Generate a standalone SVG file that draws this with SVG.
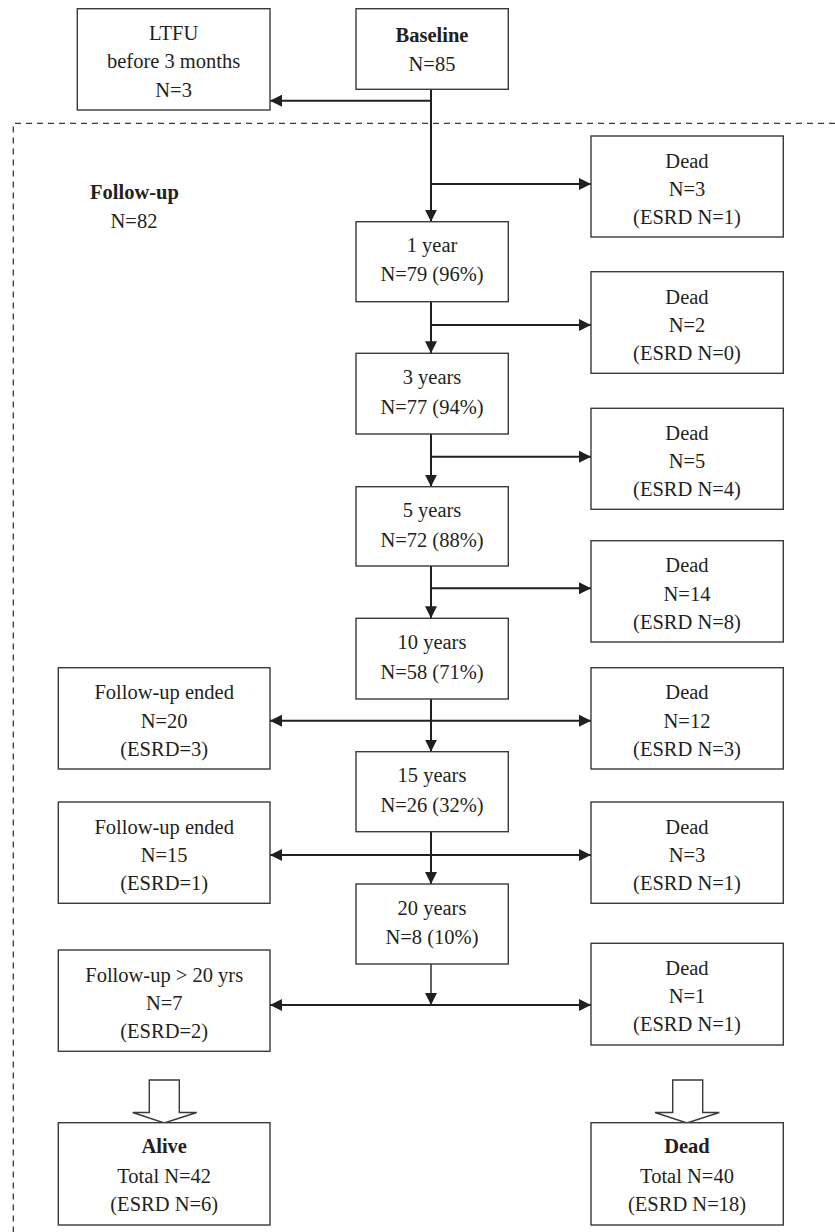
<svg xmlns="http://www.w3.org/2000/svg" width="835" height="1232" viewBox="0 0 835 1232">
<style>
.box{fill:#fff;stroke:#3a3a3a;stroke-width:1.4}
.t{font-family:"Liberation Serif","Times New Roman",serif;font-size:20.5px;fill:#231f20;text-anchor:middle}
.b{font-weight:bold}
.c{stroke:#231f20;stroke-width:2;fill:none}
.thin{stroke:#231f20;stroke-width:1.4;fill:none}
.dash{stroke:#3a3a3a;stroke-width:1.3;stroke-dasharray:6 5;fill:none}
.hollow{fill:#fff;stroke:#3a3a3a;stroke-width:1.4;stroke-linejoin:miter}
</style>
<defs>
<marker id="ah" markerUnits="userSpaceOnUse" markerWidth="13" markerHeight="12" refX="12" refY="6" orient="auto-start-reverse">
<path d="M0,0 L12,6 L0,12 z" fill="#231f20"/>
</marker>
</defs>
<rect width="835" height="1232" fill="#fff"/>
<g id="frame">
<path class="dash" d="M835,123.3 H13.3 V1232"/>
</g>
<g id="connectors">
<path class="c" d="M431,89.3 V221.7" marker-end="url(#ah)"/>
<path class="c" d="M431,100.7 H270" marker-end="url(#ah)"/>
<path class="c" d="M431,184 H591" marker-end="url(#ah)"/>
<path class="c" d="M431,301.7 V353.3" marker-end="url(#ah)"/>
<path class="c" d="M431,325 H591" marker-end="url(#ah)"/>
<path class="c" d="M431,434 V486.7" marker-end="url(#ah)"/>
<path class="c" d="M431,456.7 H591" marker-end="url(#ah)"/>
<path class="c" d="M431,566 V618.3" marker-end="url(#ah)"/>
<path class="c" d="M431,588.3 H591" marker-end="url(#ah)"/>
<path class="c" d="M431,699 V751.7" marker-end="url(#ah)"/>
<path class="c" d="M270,720.7 H591" marker-start="url(#ah)" marker-end="url(#ah)"/>
<path class="c" d="M431,831.7 V884" marker-end="url(#ah)"/>
<path class="c" d="M270,855 H591" marker-start="url(#ah)" marker-end="url(#ah)"/>
<path class="thin" d="M431,964 V1005" marker-end="url(#ah)"/>
<path class="c" d="M270,1005 H591" marker-start="url(#ah)" marker-end="url(#ah)"/>
<polygon class="hollow" points="149.3,1080 179.3,1080 179.3,1112.5 196.7,1112.5 164.3,1123 132.7,1112.5 149.3,1112.5"/>
<polygon class="hollow" points="672.7,1080 702.7,1080 702.7,1112.5 719.3,1112.5 687,1123 655,1112.5 672.7,1112.5"/>
</g>
<g id="ltfu">
<rect class="box" x="77.3" y="8.7" width="192.7" height="101.3"/>
<text class="t" x="173.6" y="40">LTFU</text>
<text class="t" x="173.6" y="68.3">before 3 months</text>
<text class="t" x="173.6" y="96.7">N=3</text>
</g>
<g id="baseline">
<rect class="box" x="356" y="8.7" width="152.3" height="80.6"/>
<text class="t b" x="432" y="41.7">Baseline</text>
<text class="t" x="432" y="70.7">N=85</text>
</g>
<g id="followup-label">
<text class="t b" x="134.5" y="199">Follow-up</text>
<text class="t" x="134" y="227.5">N=82</text>
</g>
<g id="dead1">
<rect class="box" x="591" y="136" width="192.3" height="101"/>
<text class="t" x="687" y="167.7">Dead</text>
<text class="t" x="687" y="196">N=3</text>
<text class="t" x="687" y="224">(ESRD N=1)</text>
</g>
<g id="y1">
<rect class="box" x="356" y="221.7" width="152.3" height="80"/>
<text class="t" x="432" y="251.7">1 year</text>
<text class="t" x="432" y="281">N=79 (96%)</text>
</g>
<g id="dead2">
<rect class="box" x="591" y="271.7" width="192.3" height="101.6"/>
<text class="t" x="687" y="303.5">Dead</text>
<text class="t" x="687" y="332">N=2</text>
<text class="t" x="687" y="360">(ESRD N=0)</text>
</g>
<g id="y3">
<rect class="box" x="356" y="353.3" width="152.3" height="80.7"/>
<text class="t" x="432" y="384">3 years</text>
<text class="t" x="432" y="413.5">N=77 (94%)</text>
</g>
<g id="dead3">
<rect class="box" x="591" y="408.3" width="192.3" height="101"/>
<text class="t" x="687" y="440">Dead</text>
<text class="t" x="687" y="468.3">N=5</text>
<text class="t" x="687" y="496.3">(ESRD N=4)</text>
</g>
<g id="y5">
<rect class="box" x="356" y="486.7" width="152.3" height="79.3"/>
<text class="t" x="432" y="517">5 years</text>
<text class="t" x="432" y="546.5">N=72 (88%)</text>
</g>
<g id="dead4">
<rect class="box" x="591" y="540.7" width="192.3" height="101.3"/>
<text class="t" x="687" y="572.3">Dead</text>
<text class="t" x="687" y="600.7">N=14</text>
<text class="t" x="687" y="628.7">(ESRD N=8)</text>
</g>
<g id="y10">
<rect class="box" x="356" y="618.3" width="152.3" height="80.7"/>
<text class="t" x="432" y="649.3">10 years</text>
<text class="t" x="432" y="679">N=58 (71%)</text>
</g>
<g id="ended20">
<rect class="box" x="58.3" y="667.7" width="211.7" height="101.3"/>
<text class="t" x="164.2" y="699.3">Follow-up ended</text>
<text class="t" x="164.2" y="727.7">N=20</text>
<text class="t" x="164.2" y="755.7">(ESRD=3)</text>
</g>
<g id="dead5">
<rect class="box" x="591" y="667.7" width="192.3" height="101.3"/>
<text class="t" x="687" y="699.3">Dead</text>
<text class="t" x="687" y="727.7">N=12</text>
<text class="t" x="687" y="755.7">(ESRD N=3)</text>
</g>
<g id="y15">
<rect class="box" x="356" y="751.7" width="152.3" height="80"/>
<text class="t" x="432" y="782.3">15 years</text>
<text class="t" x="432" y="812">N=26 (32%)</text>
</g>
<g id="ended15">
<rect class="box" x="58.3" y="802" width="211.7" height="101.3"/>
<text class="t" x="164.2" y="833.7">Follow-up ended</text>
<text class="t" x="164.2" y="862">N=15</text>
<text class="t" x="164.2" y="890">(ESRD=1)</text>
</g>
<g id="dead6">
<rect class="box" x="591" y="802" width="192.3" height="101.3"/>
<text class="t" x="687" y="833.7">Dead</text>
<text class="t" x="687" y="862">N=3</text>
<text class="t" x="687" y="890">(ESRD N=1)</text>
</g>
<g id="y20">
<rect class="box" x="356" y="884" width="152.3" height="80"/>
<text class="t" x="432" y="914.7">20 years</text>
<text class="t" x="432" y="944.3">N=8 (10%)</text>
</g>
<g id="over20">
<rect class="box" x="58.3" y="950" width="211.7" height="101.3"/>
<text class="t" x="164.2" y="981.7">Follow-up &gt; 20 yrs</text>
<text class="t" x="164.2" y="1010">N=7</text>
<text class="t" x="164.2" y="1038">(ESRD=2)</text>
</g>
<g id="dead7">
<rect class="box" x="591" y="943.3" width="192.3" height="101.7"/>
<text class="t" x="687" y="975">Dead</text>
<text class="t" x="687" y="1003.3">N=1</text>
<text class="t" x="687" y="1031.3">(ESRD N=1)</text>
</g>
<g id="alive-total">
<rect class="box" x="58.3" y="1122.7" width="211.7" height="102.3"/>
<text class="t b" x="164.2" y="1153.3">Alive</text>
<text class="t" x="164.2" y="1183.3">Total N=42</text>
<text class="t" x="164.2" y="1211">(ESRD N=6)</text>
</g>
<g id="dead-total">
<rect class="box" x="591" y="1122.7" width="192.3" height="102.3"/>
<text class="t b" x="687" y="1153.3">Dead</text>
<text class="t" x="687" y="1183.3">Total N=40</text>
<text class="t" x="687" y="1211">(ESRD N=18)</text>
</g>
</svg>
